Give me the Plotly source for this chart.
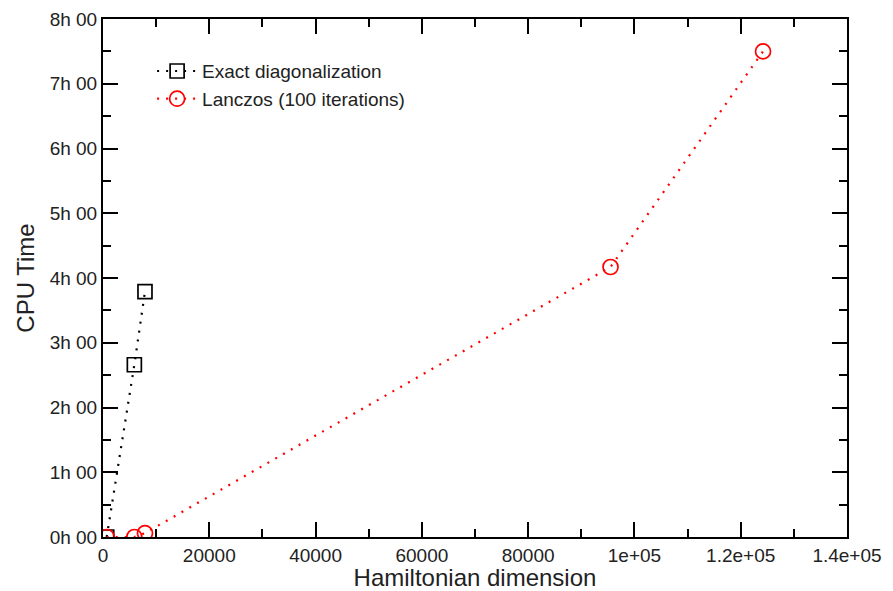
import plotly.graph_objects as go

# Hamiltonian dimensions of the benchmarked systems
dims_exact = [700, 5900, 7900]
dims_lanczos = [700, 5900, 7900, 95500, 124200]

# CPU time in hours
cpu_exact = [0.0, 2.66, 3.79]
cpu_lanczos = [0.0, 0.0, 0.06, 4.17, 7.5]

y_tickvals = [0, 1, 2, 3, 4, 5, 6, 7, 8]
y_ticktext = [f"{h}h 00" for h in y_tickvals]
y_minorvals = [0.5, 1.5, 2.5, 3.5, 4.5, 5.5, 6.5, 7.5]
x_tickvals = [0, 20000, 40000, 60000, 80000, 100000, 120000, 140000]
x_ticktext = ["0", "20000", "40000", "60000", "80000", "1e+05", "1.2e+05", "1.4e+05"]
x_minorvals = [10000, 30000, 50000, 70000, 90000, 110000, 130000]

font_family = "Liberation Sans, Arial, Helvetica, sans-serif"

fig = go.Figure()
fig.add_trace(go.Scatter(
    x=dims_exact, y=cpu_exact, mode="lines+markers",
    name="Exact diagonalization",
    line=dict(color="black", width=2.2, dash="2px,7px"),
    marker=dict(symbol="square-open", size=14, color="black", line=dict(width=1.7)),
))
fig.add_trace(go.Scatter(
    x=dims_lanczos, y=cpu_lanczos, mode="lines+markers",
    name="Lanczos (100 iterations)",
    line=dict(color="red", width=2.2, dash="2px,7px"),
    marker=dict(symbol="circle-open", size=15, color="red", line=dict(width=1.7)),
))

axis_common = dict(
    showline=True, linecolor="black", linewidth=2, mirror="ticks",
    tickmode="array", ticks="inside", tickcolor="black", tickwidth=2, ticklen=15,
    showgrid=False, zeroline=False, automargin=False,
    tickfont=dict(family=font_family, size=19, color="#222"),
)

fig.update_xaxes(
    range=[0, 140000], tickvals=x_tickvals, ticktext=x_ticktext,
    minor=dict(tickmode="array", tickvals=x_minorvals, ticks="inside",
               ticklen=8, tickwidth=2, tickcolor="black", showgrid=False),
    title=dict(text="Hamiltonian dimension", standoff=2,
               font=dict(family=font_family, size=24, color="#222")),
    **axis_common,
)
fig.update_yaxes(
    range=[0, 8], tickvals=y_tickvals, ticktext=y_ticktext,
    minor=dict(tickmode="array", tickvals=y_minorvals, ticks="inside",
               ticklen=8, tickwidth=2, tickcolor="black", showgrid=False),
    title=dict(text="CPU Time", standoff=8,
               font=dict(family=font_family, size=24, color="#222")),
    **axis_common,
)

fig.update_layout(
    width=893, height=591,
    margin=dict(l=103, r=46, t=19, b=54),
    plot_bgcolor="white", paper_bgcolor="white",
    legend=dict(x=0.066, y=0.936, xanchor="left", yanchor="top",
                bgcolor="rgba(0,0,0,0)",
                font=dict(family=font_family, size=19, color="#222"),
                tracegroupgap=0, itemwidth=40),
    showlegend=True,
)

fig.write_html("out.html")
